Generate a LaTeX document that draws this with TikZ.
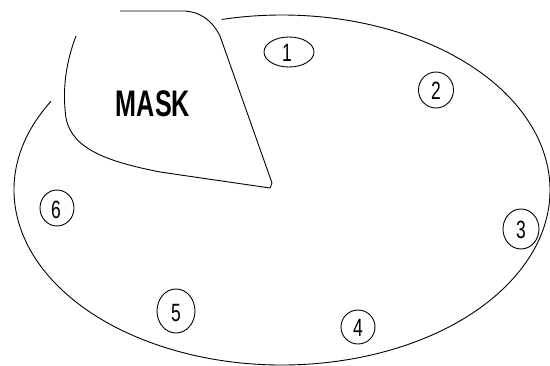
\documentclass[tikz,border=0pt]{standalone}
\usepackage{fontspec}
\setmainfont{Liberation Sans}
\begin{document}
\begin{tikzpicture}[x=1pt,y=-1pt,line width=0.9pt]
\tikzset{
  numtxt/.style={inner sep=0pt, font=\fontsize{25}{25}\selectfont},
  masktxt/.style={inner sep=0pt, font=\fontsize{37}{37}\selectfont\bfseries}}
\useasboundingbox (0,0) rectangle (550,366);
% outer ellipse with gap
\draw (282,190) ++(149.5:268 and -175) arc[start angle=149.5, end angle=463, x radius=268, y radius=-175];
% mask shape
\draw (76,36) .. controls (66,62) and (62,90) .. (66,118)
  .. controls (72,150) and (110,162) .. (160,172)
  -- (270,188) -- (272,183) -- (220,36)
  .. controls (212,20) and (200,12) .. (185,11) -- (120,11);
\node[masktxt] (mask) at (153,104) {\scalebox{0.68}[1]{MASK}};
% labels
\draw (289,52) ellipse [x radius=25, y radius=15];
\node[numtxt] (n1) at (287,53) {\scalebox{0.7}[1]{1}};
\draw (436,90) ellipse [x radius=17.5, y radius=18];
\node[numtxt] (n2) at (436,91) {\scalebox{0.7}[1]{2}};
\draw (521,229) ellipse [x radius=18, y radius=20];
\node[numtxt] (n3) at (521,230) {\scalebox{0.7}[1]{3}};
\draw (358,327) ellipse [x radius=17, y radius=17];
\node[numtxt] (n4) at (358,328) {\scalebox{0.7}[1]{4}};
\draw (176,311) ellipse [x radius=19, y radius=22];
\node[numtxt] (n5) at (176,313) {\scalebox{0.7}[1]{5}};
\draw (57,208) ellipse [x radius=17, y radius=18];
\node[numtxt] (n6) at (56,210) {\scalebox{0.7}[1]{6}};
\end{tikzpicture}
\end{document}
